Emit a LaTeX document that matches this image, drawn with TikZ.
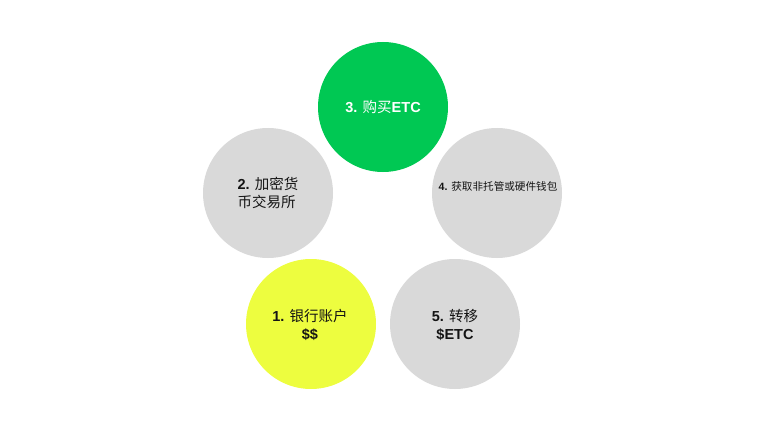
\documentclass[tikz,border=0pt]{standalone}
\usepackage{fontspec}
\setmainfont{Liberation Sans}
\newfontfamily\cjk{Noto Sans CJK SC}
\definecolor{gr}{RGB}{217,217,217}
\definecolor{grn}{RGB}{0,200,83}
\definecolor{ylw}{RGB}{237,253,63}
\definecolor{txt}{RGB}{20,20,20}
\begin{document}
\begin{tikzpicture}[x=1pt,y=-1pt,
  disc/.style={circle,minimum size=130pt,inner sep=0pt,draw=none},
  lbl/.style={font=\fontsize{14.5}{18}\selectfont,text=txt,align=center}]
\useasboundingbox (0,0) rectangle (780,436);
\node[disc,fill=grn] (c3) at (383,107) {};
\node[disc,fill=gr] (c2) at (268,193) {};
\node[disc,fill=gr] (c4) at (497,193) {};
\node[disc,fill=ylw] (c1) at (311,324) {};
\node[disc,fill=gr] (c5) at (455,324) {};
\node[lbl,text=white] (t3) at (c3) {\textbf{3.} {\cjk 购买}\textbf{ETC}};
\node[lbl,align=left] (t2) at (268,193) {\textbf{2.} {\cjk 加密货}\\{\cjk 币交易所}};
\node[lbl,font=\fontsize{10.6}{12}\selectfont] (t4) at (498,186) {\textbf{4.} {\cjk 获取非托管或硬件钱包}};
\node[lbl] (t1) at (310,325) {\textbf{1.} {\cjk 银行账户}\\\textbf{\$\$}};
\node[lbl] (t5) at (455,325) {\textbf{5.} {\cjk 转移}\\\textbf{\$ETC}};
\end{tikzpicture}
\end{document}
